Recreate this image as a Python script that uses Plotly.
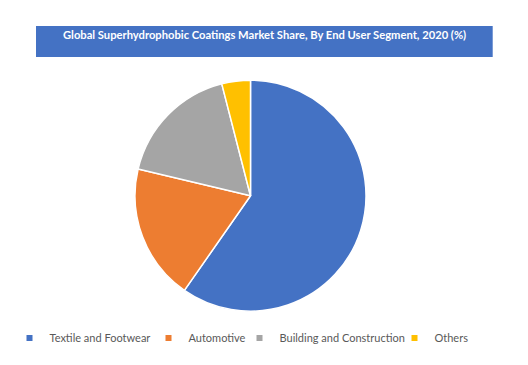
import plotly.graph_objects as go

title = "Global Superhydrophobic Coatings Market Share, By End User Segment, 2020 (%)"
segments = ["Textile and Footwear", "Automotive", "Building and Construction", "Others"]
shares = [59.7, 19.0, 17.3, 4.0]
colors = ["#4472C4", "#ED7D31", "#A5A5A5", "#FFC000"]

# page offset: body margin of 8px
OFF = 8
W, H = 528 - OFF, 365 - OFF


def px(x):
    return (x - OFF) / W


def py(y):
    return 1 - (y - OFF) / H


cx, cy, r = 250.5, 195.7, 115.5
fig = go.Figure()
fig.add_trace(go.Pie(
    labels=segments, values=shares, sort=False, direction="clockwise", rotation=0,
    marker=dict(colors=colors, line=dict(color="white", width=1.5)),
    textinfo="none", hoverinfo="label+percent", showlegend=False,
    domain=dict(x=[px(cx - r), px(cx + r)], y=[py(cy + r), py(cy - r)]),
))

legend_marker_x = [38, 177, 268, 423]
layout_legends = {}
for i, (s, c) in enumerate(zip(segments, colors)):
    key = "legend" if i == 0 else f"legend{i + 1}"
    fig.add_trace(go.Scatter(x=[None], y=[None], mode="markers", name=s, legend=key,
                             marker=dict(symbol="square", size=6, color=c)))
    layout_legends[key] = dict(
        x=px(legend_marker_x[i] - 28.5), y=py(338), xanchor="left", yanchor="middle",
        orientation="h", font=dict(family="Lato", size=11, color="#595959"),
        bgcolor="rgba(0,0,0,0)", borderwidth=0)

fig.update_layout(
    width=W, height=H, margin=dict(l=0, r=0, t=0, b=0),
    paper_bgcolor="white", plot_bgcolor="white",
    xaxis=dict(visible=False), yaxis=dict(visible=False),
    shapes=[dict(type="rect", xref="paper", yref="paper",
                 x0=px(36), x1=px(492.7), y0=py(57), y1=py(26),
                 fillcolor="#4472C4", line=dict(width=0), layer="below")],
    annotations=[dict(text="<b>" + title + "</b>", xref="paper", yref="paper",
                      x=px(264), y=py(34.5), xanchor="center", yanchor="middle",
                      showarrow=False, font=dict(family="Lato", size=11.2, color="white"))],
    **layout_legends,
)
fig.write_html("out.html")
